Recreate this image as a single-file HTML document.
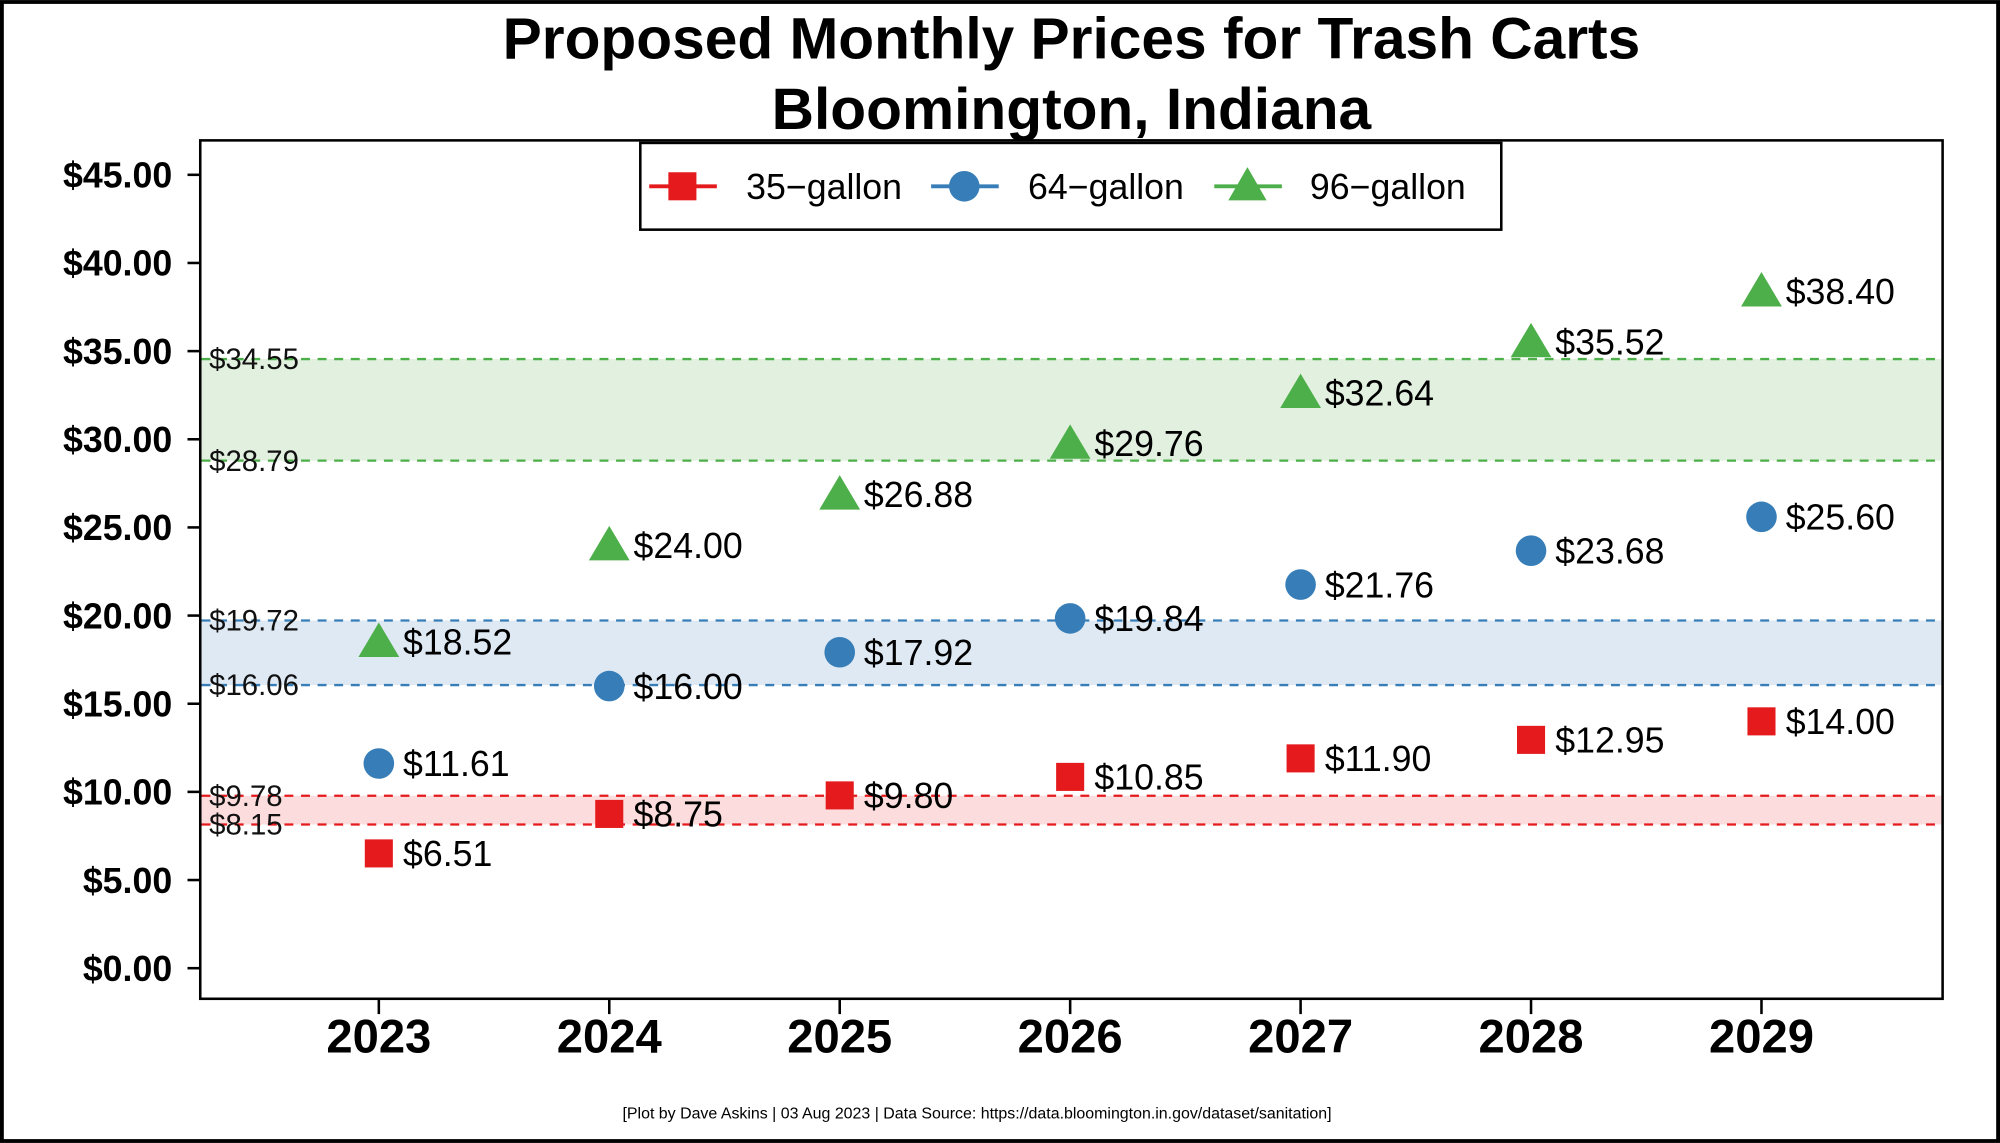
<!DOCTYPE html>
<html><head><meta charset="utf-8"><style>
html,body{margin:0;padding:0;background:#fff}
svg{display:block}
text{font-family:"Liberation Sans",Arial,sans-serif}
</style></head><body>
<svg id="chart" width="2000" height="1143" viewBox="0 0 1568 896" xmlns="http://www.w3.org/2000/svg">
<rect x="1.5" y="1.5" width="1565" height="893" fill="#fff" stroke="#000" stroke-width="3"/>
<text x="840" y="46" text-anchor="middle" font-size="46" font-weight="bold">Proposed Monthly Prices for Trash Carts</text>
<text x="840" y="101" text-anchor="middle" font-size="46" font-weight="bold">Bloomington, Indiana</text>
<g id="bands"></g>
<g id="axes"></g>
<g id="marks"></g>
<rect x="157" y="110" width="1366" height="673" fill="none" stroke="#000" stroke-width="2"/>
<g>
<rect x="502" y="112" width="675" height="68" fill="#fff" stroke="#000" stroke-width="2"/>
<g>
<line x1="509" y1="146" x2="562" y2="146" stroke="#e41a1c" stroke-width="3"/>
<rect x="524" y="135" width="22" height="22" fill="#e41a1c"/>
<text x="585" y="156" font-size="28">35−gallon</text></g>
<g>
<line x1="730" y1="146" x2="783" y2="146" stroke="#377eb8" stroke-width="3"/>
<circle cx="756" cy="146" r="12" fill="#377eb8"/>
<text x="806" y="156" font-size="28">64−gallon</text></g>
<g>
<line x1="952" y1="146" x2="1005" y2="146" stroke="#4daf4a" stroke-width="3"/>
<polygon points="978,131 993,157 963,157" fill="#4daf4a"/>
<text x="1027" y="156" font-size="28">96−gallon</text></g>
</g>
<text x="766" y="877" text-anchor="middle" font-size="12.5">[Plot by Dave Askins | 03 Aug 2023 | Data Source: https://data.bloomington.in.gov/dataset/sanitation]</text>
</svg>
<script>
const years=["2023","2024","2025","2026","2027","2028","2029"];
const gal35=[6.51,8.75,9.80,10.85,11.90,12.95,14.00];
const gal64=[11.61,16.00,17.92,19.84,21.76,23.68,25.60];
const gal96=[18.52,24.00,26.88,29.76,32.64,35.52,38.40];
const yTicks=[0,5,10,15,20,25,30,35,40,45];
const bandLow=[8.15,16.06,28.79];
const bandHigh=[9.78,19.72,34.55];
const bandNames=["35-gallon","64-gallon","96-gallon"];
const bandLine=["#e41a1c","#377eb8","#4daf4a"];
const bandFill=["#fcdcdc","#dfe9f4","#e2f0df"];
const NS="http://www.w3.org/2000/svg";
function y(v){return 759-v*(759-137)/45;}
function x(i){return 297+i*(1381-297)/6;}
function mk(tag,attrs,parent,txt){const e=document.createElementNS(NS,tag);for(const k in attrs)e.setAttribute(k,attrs[k]);if(txt!=null)e.textContent=txt;parent.appendChild(e);return e;}
const bands=document.getElementById('bands'),axes=document.getElementById('axes'),marks=document.getElementById('marks');
for(let i=0;i<3;i++){
 const r=mk('rect',{x:158,y:y(bandHigh[i]),width:1364,height:y(bandLow[i])-y(bandHigh[i]),fill:bandFill[i]},bands);
 
 
 [bandLow[i],bandHigh[i]].forEach((v,j)=>{
  const l=mk('line',{x1:158,x2:1522,y1:y(v),y2:y(v),stroke:bandLine[i],'stroke-width':1.8,'stroke-dasharray':'7,6'},bands);
  
  
  const t=mk('text',{x:164,y:y(v)+8,'font-size':23,fill:'#111'},bands,'$'+v.toFixed(2));
  
  
 });
}
yTicks.forEach(v=>{
 const l=mk('line',{x1:147,x2:157,y1:y(v),y2:y(v),stroke:'#000','stroke-width':2},axes);
 
 
 const t=mk('text',{x:135,y:y(v)+10,'text-anchor':'end','font-size':28,'font-weight':'bold'},axes,'$'+v.toFixed(2));
 
 
});
years.forEach((yr,i)=>{
 const l=mk('line',{x1:x(i),x2:x(i),y1:783,y2:795,stroke:'#000','stroke-width':2},axes);
 
 
 const t=mk('text',{x:x(i),y:825,'text-anchor':'middle','font-size':37,'font-weight':'bold'},axes,yr);
 
 
});
function label(i,v,n){
 const t=mk('text',{x:x(i)+19,y:y(v)+10,'font-size':28},marks,'$'+v.toFixed(2));
 
 
}
gal35.forEach((v,i)=>{
 const r=mk('rect',{x:x(i)-11,y:y(v)-11,width:22,height:22,fill:'#e41a1c'},marks);
 
 
 label(i,v,'35-gallon');
});
gal64.forEach((v,i)=>{
 const c=mk('circle',{cx:x(i),cy:y(v),r:12,fill:'#377eb8'},marks);
 
 
 label(i,v,'64-gallon');
});
gal96.forEach((v,i)=>{
 const cx=x(i),cy=y(v);
 const p=mk('polygon',{points:`${cx},${cy-15} ${cx+16},${cy+12} ${cx-16},${cy+12}`,fill:'#4daf4a'},marks);
 
 
 label(i,v,'96-gallon');
});
</script>
</body></html>
